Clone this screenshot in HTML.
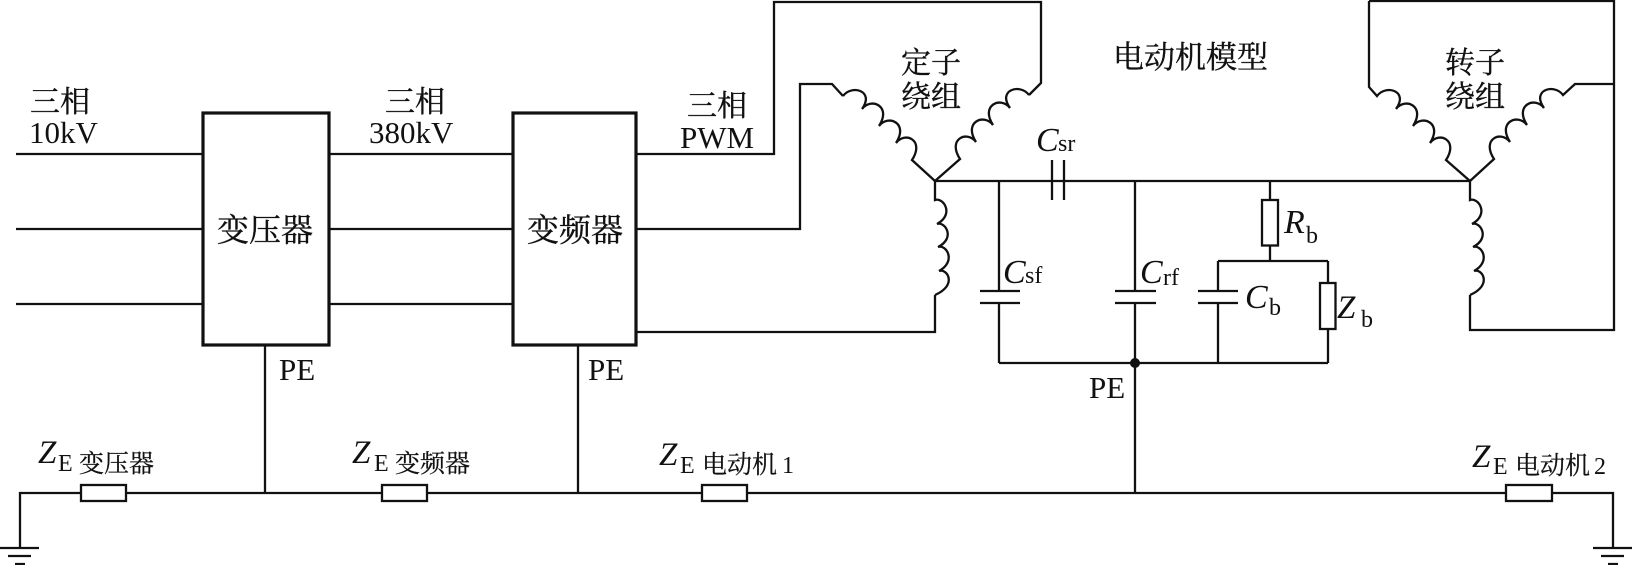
<!DOCTYPE html>
<html><head><meta charset="utf-8"><style>
html,body{margin:0;padding:0;background:#fff;width:1632px;height:565px;overflow:hidden}
svg{display:block}
text{font-family:"Liberation Serif","Noto Serif CJK SC",serif;fill:#111}
.c{font-size:30px;stroke:#111;stroke-width:.35}
.b{font-size:32px;stroke:#111;stroke-width:.35}
.s{font-size:24px}
.k{font-size:25px;stroke:#111;stroke-width:.25}
.l{font-size:31px}
.i{font-style:italic;font-size:34px}
.z{font-style:italic;font-size:33px}
</style></head><body>
<svg width="1632" height="565" viewBox="0 0 1632 565" xmlns="http://www.w3.org/2000/svg">
<g fill="none" stroke="#111" stroke-width="2.300">
<!-- input lines -->
<path d="M16 154H203M16 229H203M16 304H203"/>
<path d="M329 154H513M329 229H513M329 304H513"/>
<!-- outputs -->
<path d="M636 154H774V2H1041V83L1029 95"/>
<path d="M636 229H800V84H832L843 96"/>
<path d="M636 332H935V295"/>
<!-- stator coils -->
<path d="M843 96c9 -12 32 -5 19 13c9 -12 30 -3 17 17c9 -12 30 -3 17 17c9 -12 29 -3 16 17L935 181"/>
<path d="M1029 95c-9 -12 -32 -5 -19 13c-9 -12 -30 -3 -17 17c-9 -12 -30 -3 -17 17c-9 -12 -29 -3 -16 17L935 181"/>
<path d="M935 181V200c8 -3 20 14 2 24c8 -3 19 14 1 23c8 -3 19 14 1 24c8 -3 19 14 -4 24"/>
<!-- rotor -->
<path d="M1470 181H935"/>
<path d="M1369 1V87L1377 96c9 -12 32 -5 19 13c9 -12 30 -3 17 17c9 -12 30 -3 17 17c9 -12 29 -3 16 17L1470 181"/>
<path d="M1369 1H1614V330H1470V295"/>
<path d="M1470 181V200c8 -3 20 14 2 24c8 -3 19 14 1 23c8 -3 19 14 1 24c8 -3 19 14 -4 24"/>
<path d="M1614 84H1575L1563 95c-9 -12 -32 -5 -19 13c-9 -12 -30 -3 -17 17c-9 -12 -30 -3 -17 17c-9 -12 -29 -3 -16 17L1470 181"/>
<!-- capacitor network -->
<path d="M1052 160V200M1064 160V200"/>
<path d="M999 181V291M999 303V363M980 291H1020M980 303H1020"/>
<path d="M1135 181V291M1135 303V493M1115 291H1156M1115 303H1156"/>
<path d="M1270 181V200M1270 245V261M1218 261H1328M1218 261V291M1218 303V363M1198 291H1238M1198 303H1238"/>
<path d="M1328 261V283M1328 329V363M999 363H1328"/>
<rect x="1262" y="200" width="16" height="45.500"/>
<rect x="1320" y="283" width="15.500" height="46"/>
<!-- PE and bus -->
<path d="M265 345V493M578 345V493"/>
<path d="M20 548V493H1613V548"/>
<path d="M0 548H39M8 556H31M15 564H25"/>
<path d="M1593 548H1632M1601 556H1624M1608 564H1618"/>
<g fill="#fff">
<rect x="81" y="485" width="45" height="16"/>
<rect x="382" y="485" width="45" height="16"/>
<rect x="702" y="485" width="45" height="16"/>
<rect x="1506" y="485" width="46" height="16"/>
</g>
</g>
<rect x="203" y="113" width="126" height="232" fill="#fff" stroke="#111" stroke-width="3.200"/>
<rect x="513" y="113" width="123" height="232" fill="#fff" stroke="#111" stroke-width="3.200"/>
<circle cx="1135" cy="363" r="5" fill="#111"/>

<text class="c" x="30" y="112">三相</text>
<text class="l" x="29" y="143">10kV</text>
<text class="c" x="385" y="112">三相</text>
<text class="l" x="369" y="143">380kV</text>
<text class="c" x="687" y="116">三相</text>
<text class="l" x="680" y="148">PWM</text>
<text class="b" x="217" y="241">变压器</text>
<text class="b" x="527" y="241">变频器</text>
<text class="c" x="901" y="73">定子</text>
<text class="c" x="901" y="107">绕组</text>
<text class="c" x="1445" y="73">转子</text>
<text class="c" x="1445" y="107">绕组</text>
<text class="c" x="1113" y="68" style="font-size:31px">电动机模型</text>
<text class="l" x="279" y="380">PE</text>
<text class="l" x="588" y="380">PE</text>
<text class="l" x="1089" y="398">PE</text>

<text class="i" x="1036" y="151">C</text><text class="s" x="1058" y="151">sr</text>
<text class="i" x="1003" y="283">C</text><text class="s" x="1025" y="283">sf</text>
<text class="i" x="1140" y="283">C</text><text class="s" x="1163" y="285">rf</text>
<text class="i" x="1284" y="233">R</text><text class="s" x="1306" y="243">b</text>
<text class="i" x="1245" y="308">C</text><text class="s" x="1269" y="315">b</text>
<text class="z" x="1337" y="318">Z</text><text class="s" x="1361" y="327">b</text>

<text class="z" x="38" y="463">Z</text><text class="s" x="58" y="471">E</text><text class="k" x="79" y="472">变压器</text>
<text class="z" x="352" y="463">Z</text><text class="s" x="374" y="471">E</text><text class="k" x="395" y="472">变频器</text>
<text class="z" x="659" y="465">Z</text><text class="s" x="680" y="473">E</text><text class="k" x="702" y="473">电动机</text><text class="s" x="782" y="473">1</text>
<text class="z" x="1472" y="467">Z</text><text class="s" x="1493" y="474">E</text><text class="k" x="1515" y="474">电动机</text><text class="s" x="1594" y="474">2</text>
</svg>
</body></html>
